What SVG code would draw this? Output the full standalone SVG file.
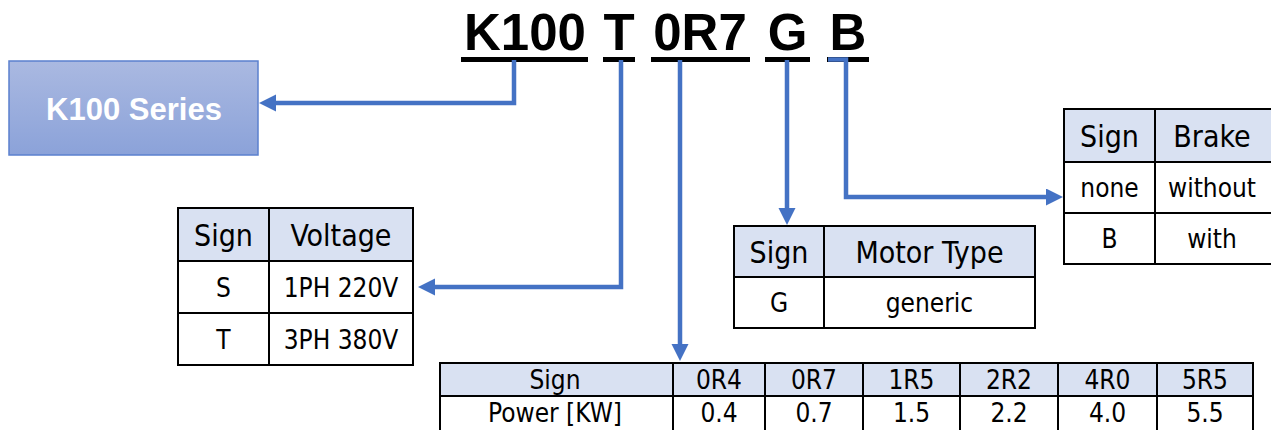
<svg xmlns="http://www.w3.org/2000/svg" width="1271" height="430" viewBox="0 0 1271 430">
<style>
.title{font-family:"Liberation Sans",Arial,sans-serif;font-weight:bold;font-size:51px;fill:#000;text-anchor:middle}
.ul{fill:#000}
.cell{fill:#fff;stroke:#000;stroke-width:2}
.hdr{fill:#D9E1F2;stroke:#000;stroke-width:2}
.th{font-family:"DejaVu Sans Condensed","DejaVu Sans",sans-serif;font-stretch:condensed;font-size:30px;fill:#000;text-anchor:middle}
.td{font-family:"DejaVu Sans Condensed","DejaVu Sans",sans-serif;font-stretch:condensed;font-size:26px;fill:#000;text-anchor:middle}
.conn{fill:none;stroke:#4472C4;stroke-width:4.5;marker-end:url(#arr)}
.series{font-family:"Liberation Sans",Arial,sans-serif;font-weight:bold;font-size:31px;fill:#fff;text-anchor:middle}
</style>
<defs>
<linearGradient id="g1" x1="0" y1="0" x2="0" y2="1">
<stop offset="0" stop-color="#AAB9E1"/>
<stop offset="1" stop-color="#8BA2D9"/>
</linearGradient>
<marker id="arr" markerUnits="userSpaceOnUse" markerWidth="18" markerHeight="18" refX="1" refY="8.5" orient="auto">
<path d="M0,0 L17,8.5 L0,17 z" fill="#4472C4"/>
</marker>
</defs>

<g id="title">
<text class="title" x="525" y="50">K100</text>
<text class="title" x="619" y="50">T</text>
<text class="title" x="700" y="50">0R7</text>
<text class="title" x="787.5" y="50">G</text>
<text class="title" x="848" y="50">B</text>
<rect class="ul" x="461" y="57" width="127" height="5"/>
<rect class="ul" x="603" y="57" width="32" height="5"/>
<rect class="ul" x="651" y="57" width="99" height="5"/>
<rect class="ul" x="765" y="57" width="45" height="5"/>
<rect class="ul" x="827" y="57" width="42" height="5"/>
</g>

<g id="series">
<rect x="9" y="61" width="249" height="94" fill="url(#g1)" stroke="#5B80CE" stroke-width="1.5"/>
<text class="series" x="134" y="120">K100 Series</text>
</g>

<g id="voltage">
<rect class="hdr" x="178" y="208" width="235" height="53"/>
<rect class="cell" x="178" y="261" width="235" height="52"/>
<rect class="cell" x="178" y="313" width="235" height="52"/>
<line x1="269" y1="208" x2="269" y2="365" stroke="#000" stroke-width="2"/>
<text class="th" x="223.5" y="246">Sign</text>
<text class="th" x="341" y="246">Voltage</text>
<text class="td" x="223.5" y="297">S</text>
<text class="td" x="341" y="297">1PH 220V</text>
<text class="td" x="223.5" y="349">T</text>
<text class="td" x="341" y="349">3PH 380V</text>
</g>

<g id="motor">
<rect class="hdr" x="734" y="226" width="301" height="51"/>
<rect class="cell" x="734" y="277" width="301" height="51"/>
<line x1="824" y1="226" x2="824" y2="328" stroke="#000" stroke-width="2"/>
<text class="th" x="779" y="263">Sign</text>
<text class="th" x="929.5" y="263">Motor Type</text>
<text class="td" x="779" y="312">G</text>
<text class="td" x="929.5" y="312">generic</text>
</g>

<g id="brake">
<rect class="hdr" x="1064" y="109" width="210" height="53"/>
<rect class="cell" x="1064" y="162" width="210" height="51"/>
<rect class="cell" x="1064" y="213" width="210" height="51"/>
<line x1="1155" y1="109" x2="1155" y2="264" stroke="#000" stroke-width="2"/>
<text class="th" x="1109.5" y="147">Sign</text>
<text class="th" x="1212" y="147">Brake</text>
<text class="td" x="1109.5" y="197">none</text>
<text class="td" x="1212" y="197">without</text>
<text class="td" x="1109.5" y="248">B</text>
<text class="td" x="1212" y="248">with</text>
</g>

<g id="power">
<rect class="hdr" x="440" y="363" width="813" height="33"/>
<rect class="cell" x="440" y="396" width="813" height="36"/>
<g stroke="#000" stroke-width="2">
<line x1="673" y1="363" x2="673" y2="432"/>
<line x1="765" y1="363" x2="765" y2="432"/>
<line x1="863" y1="363" x2="863" y2="432"/>
<line x1="960" y1="363" x2="960" y2="432"/>
<line x1="1058" y1="363" x2="1058" y2="432"/>
<line x1="1157" y1="363" x2="1157" y2="432"/>
</g>
<text class="td" x="555" y="389">Sign</text>
<text class="td" x="719" y="389">0R4</text>
<text class="td" x="814" y="389">0R7</text>
<text class="td" x="911.5" y="389">1R5</text>
<text class="td" x="1009" y="389">2R2</text>
<text class="td" x="1107.5" y="389">4R0</text>
<text class="td" x="1205" y="389">5R5</text>
<text class="td" x="555" y="422">Power [KW]</text>
<text class="td" x="719" y="422">0.4</text>
<text class="td" x="814" y="422">0.7</text>
<text class="td" x="911.5" y="422">1.5</text>
<text class="td" x="1009" y="422">2.2</text>
<text class="td" x="1107.5" y="422">4.0</text>
<text class="td" x="1205" y="422">5.5</text>
</g>

<g id="connectors">
<path class="conn" d="M514,60 V103 H275"/>
<path class="conn" d="M621,60 V287 H434"/>
<path class="conn" d="M680,60 V345"/>
<path class="conn" d="M787,60 V209"/>
<path class="conn" d="M828,59.5 H846 V197 H1047"/>
</g>
</svg>
